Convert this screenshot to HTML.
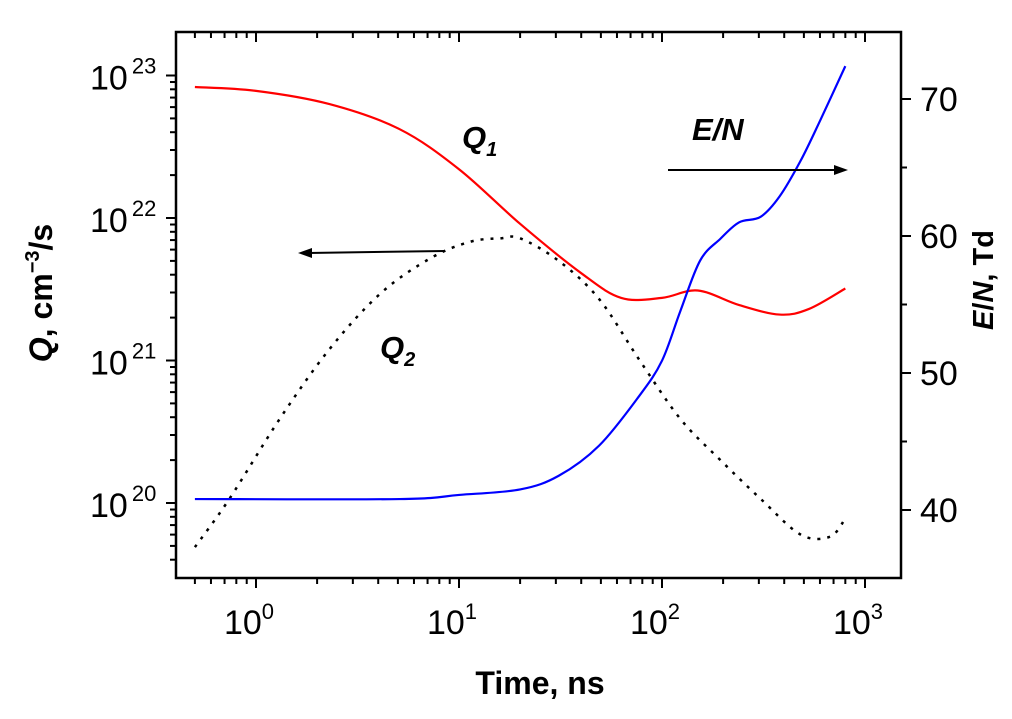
<!DOCTYPE html>
<html><head><meta charset="utf-8"><style>
html,body{margin:0;padding:0;background:#fff;}
svg{display:block;font-family:"Liberation Sans",Arial,sans-serif;}
</style></head><body>
<svg id="chart" width="1012" height="719" viewBox="0 0 1012 719" xmlns="http://www.w3.org/2000/svg">
<g id="axes"></g>
<g id="series"></g>
<g id="annot">
  <text x="462" y="148" font-size="31" font-weight="bold" font-style="italic">Q<tspan font-size="20" dy="8">1</tspan></text>
  <text x="380" y="358" font-size="31" font-weight="bold" font-style="italic">Q<tspan font-size="20" dy="8">2</tspan></text>
  <text x="692" y="140" font-size="31" font-weight="bold" font-style="italic">E/N</text>
  <g>
    <line x1="445" y1="251" x2="308" y2="253" stroke="#000" stroke-width="2"/>
    <polygon points="298,253 312,248 312,258" fill="#000"/>
  </g>
  <g>
    <line x1="668" y1="170" x2="838" y2="170" stroke="#000" stroke-width="2"/>
    <polygon points="848,170 834,165 834,175" fill="#000"/>
  </g>
  <text x="540" y="694" font-size="32" font-weight="bold" text-anchor="middle">Time, ns</text>
  <text transform="translate(52,293) rotate(-90)" font-size="32" font-weight="bold" text-anchor="middle"><tspan font-style="italic">Q</tspan>, cm<tspan font-size="20" dy="-13">−3</tspan><tspan dy="13">/s</tspan></text>
  <text transform="translate(993,280) rotate(-90)" font-size="29" font-weight="bold" text-anchor="middle"><tspan font-style="italic">E</tspan>/<tspan font-style="italic">N</tspan>, Td</text>
</g>
</svg>
<script>
const tQ1 = [0.5, 1, 2.3, 5.1, 10, 20, 40, 63, 100, 150, 240, 380, 530, 800];
const q1 = [8.3e22, 7.8e22, 6.3e22, 4.2e22, 2.2e22, 9.1e21, 4.1e21, 2.75e21, 2.75e21, 3.1e21, 2.45e21, 2.1e21, 2.3e21, 3.2e21];
const tQ2 = [0.5, 0.74, 1.31, 2.3, 4.1, 7.2, 11.3, 16, 20, 31, 49, 77, 123, 194, 306, 482, 673, 800];
const q2 = [4.9e19, 1.07e20, 3.9e20, 1.2e21, 2.95e21, 5.2e21, 6.8e21, 7.2e21, 7.2e21, 5.0e21, 2.7e21, 1.02e21, 3.9e20, 2.0e20, 1.07e20, 6.0e19, 5.8e19, 7.8e19];
const tEN = [0.5, 5.1, 10, 20, 31, 49, 77, 100, 123, 154, 194, 240, 306, 380, 482, 600, 800];
const en = [40.8, 40.8, 41.1, 41.5, 42.5, 44.7, 48.3, 50.9, 54.5, 58.2, 59.8, 61.0, 61.4, 62.9, 65.5, 68.4, 72.4];
const xDecades = [0, 1, 2, 3];
const yDecades = [20, 21, 22, 23];
const enTicks = [40, 50, 60, 70];

const NS = "http://www.w3.org/2000/svg";
const L = 176, R = 901, T = 32, B = 578;
const X = t => 256 + 203 * Math.log10(t);
const YQ = q => 503 - 142.5 * (Math.log10(q) - 20);
const YE = v => 510 - 13.7 * (v - 40);
function mk(tag, attrs, parent) {
  const e = document.createElementNS(NS, tag);
  for (const k in attrs) e.setAttribute(k, attrs[k]);
  parent.appendChild(e);
  return e;
}
const ax = document.getElementById('axes');
const fr = mk('rect', {x: L, y: T, width: R - L, height: B - T, fill: 'none', stroke: '#000', 'stroke-width': 2.5}, ax);


for (let d = -1; d <= 3; d++) {
  for (let m = 1; m <= 9; m++) {
    const x = X(m * Math.pow(10, d));
    if (x < L + 1 || x > R - 1) continue;
    const len = m === 1 ? 10 : 6;
    const tk = mk('line', {x1: x, y1: B, x2: x, y2: B + len, stroke: '#000', 'stroke-width': 2}, ax);
    
    
    mk('line', {x1: x, y1: T, x2: x, y2: T + len, stroke: '#000', 'stroke-width': 2}, ax);
  }
}
xDecades.forEach(d => {
  const tx = mk('text', {x: X(Math.pow(10, d)) - 7, y: 634, 'font-size': 34, 'text-anchor': 'middle'}, ax);
  
  
  tx.innerHTML = '10<tspan font-size="22" dy="-15">' + d + '</tspan>';
});
for (let d = 19; d <= 23; d++) {
  for (let m = 1; m <= 9; m++) {
    const y = YQ(m * Math.pow(10, d));
    if (y > B - 1 || y < T + 1) continue;
    const len = m === 1 ? 10 : 6;
    const tk = mk('line', {x1: L, y1: y, x2: L - len, y2: y, stroke: '#000', 'stroke-width': 2}, ax);
    
    
  }
}
yDecades.forEach(d => {
  const tx = mk('text', {x: 90, y: YQ(Math.pow(10, d)) + 14, 'font-size': 34, 'text-anchor': 'start'}, ax);
  
  
  tx.innerHTML = '10<tspan font-size="22" dx="4" dy="-16">' + d + '</tspan>';
});
for (let v = 35; v <= 75; v += 5) {
  const y = YE(v);
  if (y > B - 1 || y < T + 1) continue;
  const len = v % 10 === 0 ? 10 : 6;
  const tk = mk('line', {x1: R, y1: y, x2: R + len, y2: y, stroke: '#000', 'stroke-width': 2}, ax);
  
  
}
enTicks.forEach(v => {
  const tx = mk('text', {x: 920, y: YE(v) + 12, 'font-size': 34}, ax);
  
  
  tx.textContent = v;
});
const sg = document.getElementById('series');
function smooth(pts) {
  let d = 'M' + pts[0][0] + ',' + pts[0][1];
  for (let i = 0; i < pts.length - 1; i++) {
    const p0 = pts[Math.max(0, i - 1)], p1 = pts[i], p2 = pts[i + 1], p3 = pts[Math.min(pts.length - 1, i + 2)];
    const c1x = p1[0] + (p2[0] - p0[0]) / 6, c1y = p1[1] + (p2[1] - p0[1]) / 6;
    const c2x = p2[0] - (p3[0] - p1[0]) / 6, c2y = p2[1] - (p3[1] - p1[1]) / 6;
    d += ' C' + c1x + ',' + c1y + ' ' + c2x + ',' + c2y + ' ' + p2[0] + ',' + p2[1];
  }
  return d;
}
const p1 = mk('path', {d: smooth(tQ1.map((t, i) => [X(t), YQ(q1[i])])), fill: 'none', stroke: '#ff0000', 'stroke-width': 2.2}, sg);


const p2 = mk('path', {d: smooth(tQ2.map((t, i) => [X(t), YQ(q2[i])])), fill: 'none', stroke: '#000', 'stroke-width': 2.5, 'stroke-dasharray': '3,7'}, sg);


const p3 = mk('path', {d: smooth(tEN.map((t, i) => [X(t), YE(en[i])])), fill: 'none', stroke: '#0000ff', 'stroke-width': 2.2}, sg);


</script>
</body></html>
